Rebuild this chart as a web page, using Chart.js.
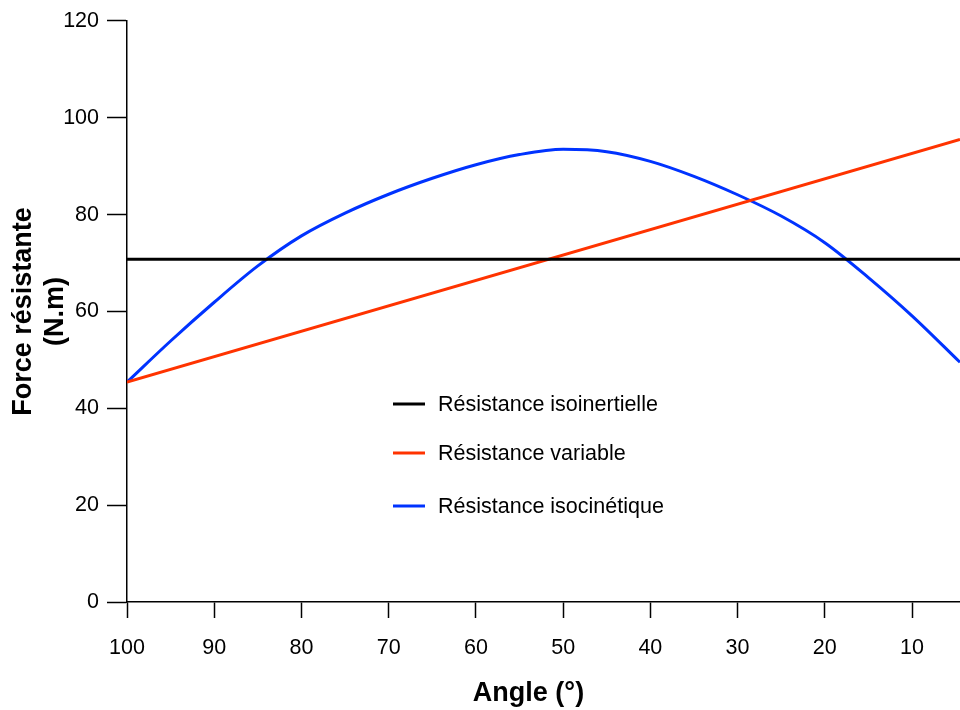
<!DOCTYPE html>
<html lang="fr">
<head>
<meta charset="utf-8">
<title>Force résistante</title>
<script src="https://cdn.jsdelivr.net/npm/chart.js@4.4.1/dist/chart.umd.min.js"></script>
<style>
    html, body { margin: 0; padding: 0; background: #fff; overflow: hidden; }
    #wrap { width: 960px; height: 710px; }
</style>
</head>
<body>
<div id="wrap"><canvas id="chart" width="960" height="710"></canvas></div>
<script>
// axis ticks
const angleTicks = [10, 20, 30, 40, 50, 60, 70, 80, 90, 100];
const forceTicks = [0, 20, 40, 60, 80, 100, 120];

// series (angle in degrees -> force in N.m)
const isoinertielleAngles = [100, 4.5];
const isoinertielleForce  = [70.8, 70.8];

const variableAngles = [100, 4.5];
const variableForce  = [45.4, 95.5];

const isocinetiqueAngles = [100, 95, 90, 85, 80, 75, 70, 65, 60, 55, 50, 45, 40, 35, 30, 25, 20, 15, 10, 4.5];
const isocinetiqueForce  = [45.4, 53.9, 61.9, 69.4, 75.6, 80.3, 84.2, 87.5, 90.3, 92.4, 93.5, 93.0, 91.0, 87.9, 84.1, 79.7, 74.2, 67.0, 59.1, 49.5];

const FONT = '"Liberation Sans", Arial, Helvetica, sans-serif';

function toPoints(xs, ys) {
    return xs.map((x, i) => ({ x: x, y: ys[i] }));
}

// legend drawn inside the plot area
const innerLegend = {
    id: 'innerLegend',
    afterDraw(chart, args, opts) {
        const ctx = chart.ctx;
        ctx.save();
        ctx.font = '21.5px ' + FONT;
        ctx.textBaseline = 'middle';
        ctx.fillStyle = '#000';
        chart.data.datasets.forEach((ds, i) => {
            const y = opts.rows[i];
            ctx.strokeStyle = ds.borderColor;
            ctx.lineWidth = 3;
            ctx.beginPath();
            ctx.moveTo(opts.x, y);
            ctx.lineTo(opts.x + 32, y);
            ctx.stroke();
            ctx.fillText(ds.label, opts.x + 45, y + 1);
        });
        ctx.restore();
    }
};

const ctx = document.getElementById('chart').getContext('2d');
new Chart(ctx, {
    type: 'line',
    data: {
        datasets: [
            {
                label: 'Résistance isoinertielle',
                data: toPoints(isoinertielleAngles, isoinertielleForce),
                borderColor: '#000000',
                borderWidth: 3,
                pointRadius: 0
            },
            {
                label: 'Résistance variable',
                data: toPoints(variableAngles, variableForce),
                borderColor: '#ff3300',
                borderWidth: 3,
                pointRadius: 0
            },
            {
                label: 'Résistance isocinétique',
                data: toPoints(isocinetiqueAngles, isocinetiqueForce),
                borderColor: '#0033ff',
                borderWidth: 3,
                pointRadius: 0,
                cubicInterpolationMode: 'monotone'
            }
        ]
    },
    options: {
        responsive: false,
        animation: false,
        devicePixelRatio: 1,
        layout: { padding: { top: 19, right: 0, left: 0, bottom: 0 } },
        plugins: {
            legend: { display: false },
            tooltip: { enabled: false },
            innerLegend: { x: 393, rows: [404, 453, 506] }
        },
        scales: {
            x: {
                type: 'linear',
                reverse: true,
                min: 4.5,
                max: 100,
                afterBuildTicks: (s) => { s.ticks = angleTicks.map(v => ({ value: v })); },
                afterFit: (s) => { s.height = 108; },
                border: { display: true, color: '#000', width: 1.5 },
                grid: { drawOnChartArea: false, drawTicks: true, tickLength: 16, tickColor: '#000', tickWidth: 1.5 },
                ticks: { color: '#000', font: { family: FONT, size: 21.5 }, padding: 17, maxRotation: 0 },
                title: {
                    display: true,
                    // trailing spaces pull the centred title a little to the left, as in the original
                    text: 'Angle (°)\u00a0\u00a0\u00a0\u00a0',
                    color: '#000',
                    font: { family: FONT, size: 27, weight: 'bold', lineHeight: 1.2 },
                    padding: { top: 0, bottom: 0 }
                }
            },
            y: {
                min: 0,
                max: 120,
                afterBuildTicks: (s) => { s.ticks = forceTicks.map(v => ({ value: v })); },
                afterFit: (s) => { s.width = 127; },
                border: { display: true, color: '#000', width: 1.5 },
                grid: { drawOnChartArea: false, drawTicks: true, tickLength: 20, tickColor: '#000', tickWidth: 1.5 },
                ticks: { color: '#000', font: { family: FONT, size: 21.5 }, padding: 8 },
                title: {
                    display: true,
                    text: ['Force résistante', '(N.m)'],
                    color: '#000',
                    font: { family: FONT, size: 27, weight: 'bold', lineHeight: 1.2 },
                    padding: { top: 7, bottom: 0 }
                }
            }
        }
    },
    plugins: [innerLegend]
});
</script>
</body>
</html>
